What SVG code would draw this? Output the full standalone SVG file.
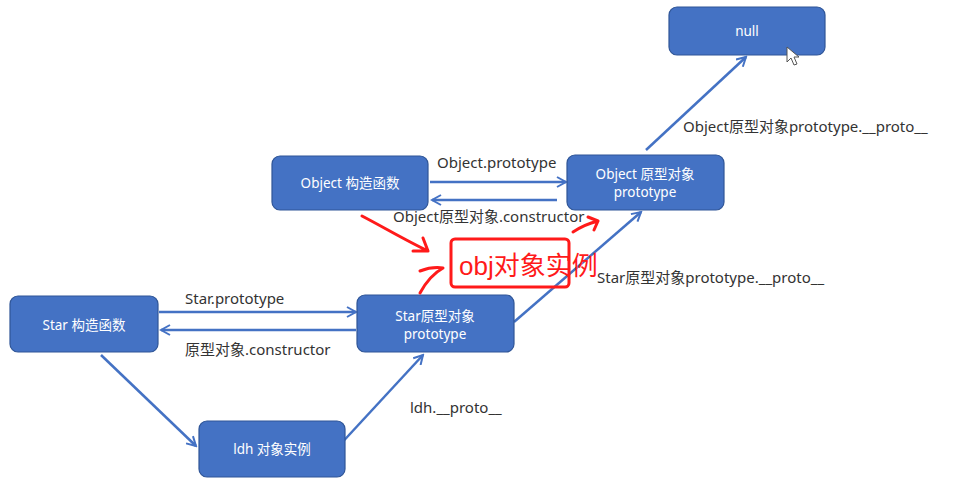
<svg xmlns="http://www.w3.org/2000/svg" width="974" height="504" viewBox="0 0 974 504">
<defs>
<style>
.node rect{fill:#4472C4;stroke:#2F5597;stroke-width:1.2}
.node text{fill:#fff;font-family:"Noto Sans","Noto Sans CJK SC",sans-serif;font-size:13.5px;text-anchor:middle;dominant-baseline:central}
.lbl{fill:#333;font-family:"Noto Sans","Noto Sans CJK SC",sans-serif;font-size:15px}
.conn line{stroke:#4472C4;stroke-width:2.5;marker-end:url(#ah)}
.red{stroke:#FF1A1A;stroke-width:3;fill:none;stroke-linecap:round;stroke-linejoin:round}
</style>
<marker id="ah" viewBox="0 0 12 12" refX="10" refY="6" markerWidth="12" markerHeight="12" markerUnits="userSpaceOnUse" orient="auto">
<path d="M1,1 L10,6 L1,11" fill="none" stroke="#4472C4" stroke-width="2"/>
</marker>
</defs>
<rect width="974" height="504" fill="#fff"/>
<g class="conn" id="connectors">
<line x1="430" y1="182" x2="566" y2="182"/>
<line x1="557" y1="200" x2="432" y2="200"/>
<line x1="159" y1="312" x2="356" y2="312"/>
<line x1="356" y1="330" x2="161" y2="330"/>
<line x1="101" y1="355" x2="196" y2="446"/>
<line x1="337" y1="448" x2="423" y2="355"/>
<line x1="514" y1="322" x2="641" y2="212"/>
<line x1="646" y1="150" x2="746" y2="57"/>
</g>
<g id="labels">
<text class="lbl" x="437" y="168">Object.prototype</text>
<text class="lbl" x="393" y="222">Object原型对象.constructor</text>
<text class="lbl" x="185" y="304">Star.prototype</text>
<text class="lbl" x="185" y="355">原型对象.constructor</text>
<text class="lbl" x="410" y="413">ldh.__proto__</text>
<text class="lbl" x="597" y="283">Star原型对象prototype.__proto__</text>
<text class="lbl" x="683" y="132">Object原型对象prototype.__proto__</text>
</g>
<g class="node" id="null"><rect x="669" y="7" width="156" height="48" rx="8"/><text x="747" y="31">null</text></g>
<g class="node" id="object-ctor"><rect x="272" y="156" width="156" height="54" rx="8"/><text x="350" y="183">Object 构造函数</text></g>
<g class="node" id="object-proto"><rect x="567" y="155" width="157" height="55" rx="8"/><text x="645" y="174">Object 原型对象</text><text x="645" y="192">prototype</text></g>
<g class="node" id="star-ctor"><rect x="10" y="296" width="148" height="56" rx="8"/><text x="84" y="325">Star 构造函数</text></g>
<g class="node" id="star-proto"><rect x="357" y="295" width="157" height="57" rx="8"/><text x="435" y="316">Star原型对象</text><text x="435" y="334">prototype</text></g>
<g class="node" id="ldh"><rect x="199" y="421" width="146" height="56" rx="8"/><text x="272" y="449">ldh 对象实例</text></g>
<g id="annotation">
<rect class="red" x="451" y="239" width="118" height="48" rx="4"/>
<text x="459" y="275" fill="#FF1A1A" font-family="Liberation Sans,'Noto Sans CJK SC',sans-serif" font-size="26">obj对象实例</text>
<path class="red" d="M362,216 C385,228 405,240 428,251 M428,251 L413,251 M428,251 L423,238"/>
<path class="red" d="M420,293 C426,282 434,273 443,268 M420,271 C428,268 436,267 443,268"/>
<path class="red" d="M573,232 C582,226 590,223 598,221 M598,221 L588,217 M598,221 L594,230"/>
</g>
<path d="M787,47 L787,62 L791,58 L794,65 L797,64 L794,57 L799,57 Z" fill="#fff" stroke="#555" stroke-width="1"/>
</svg>
